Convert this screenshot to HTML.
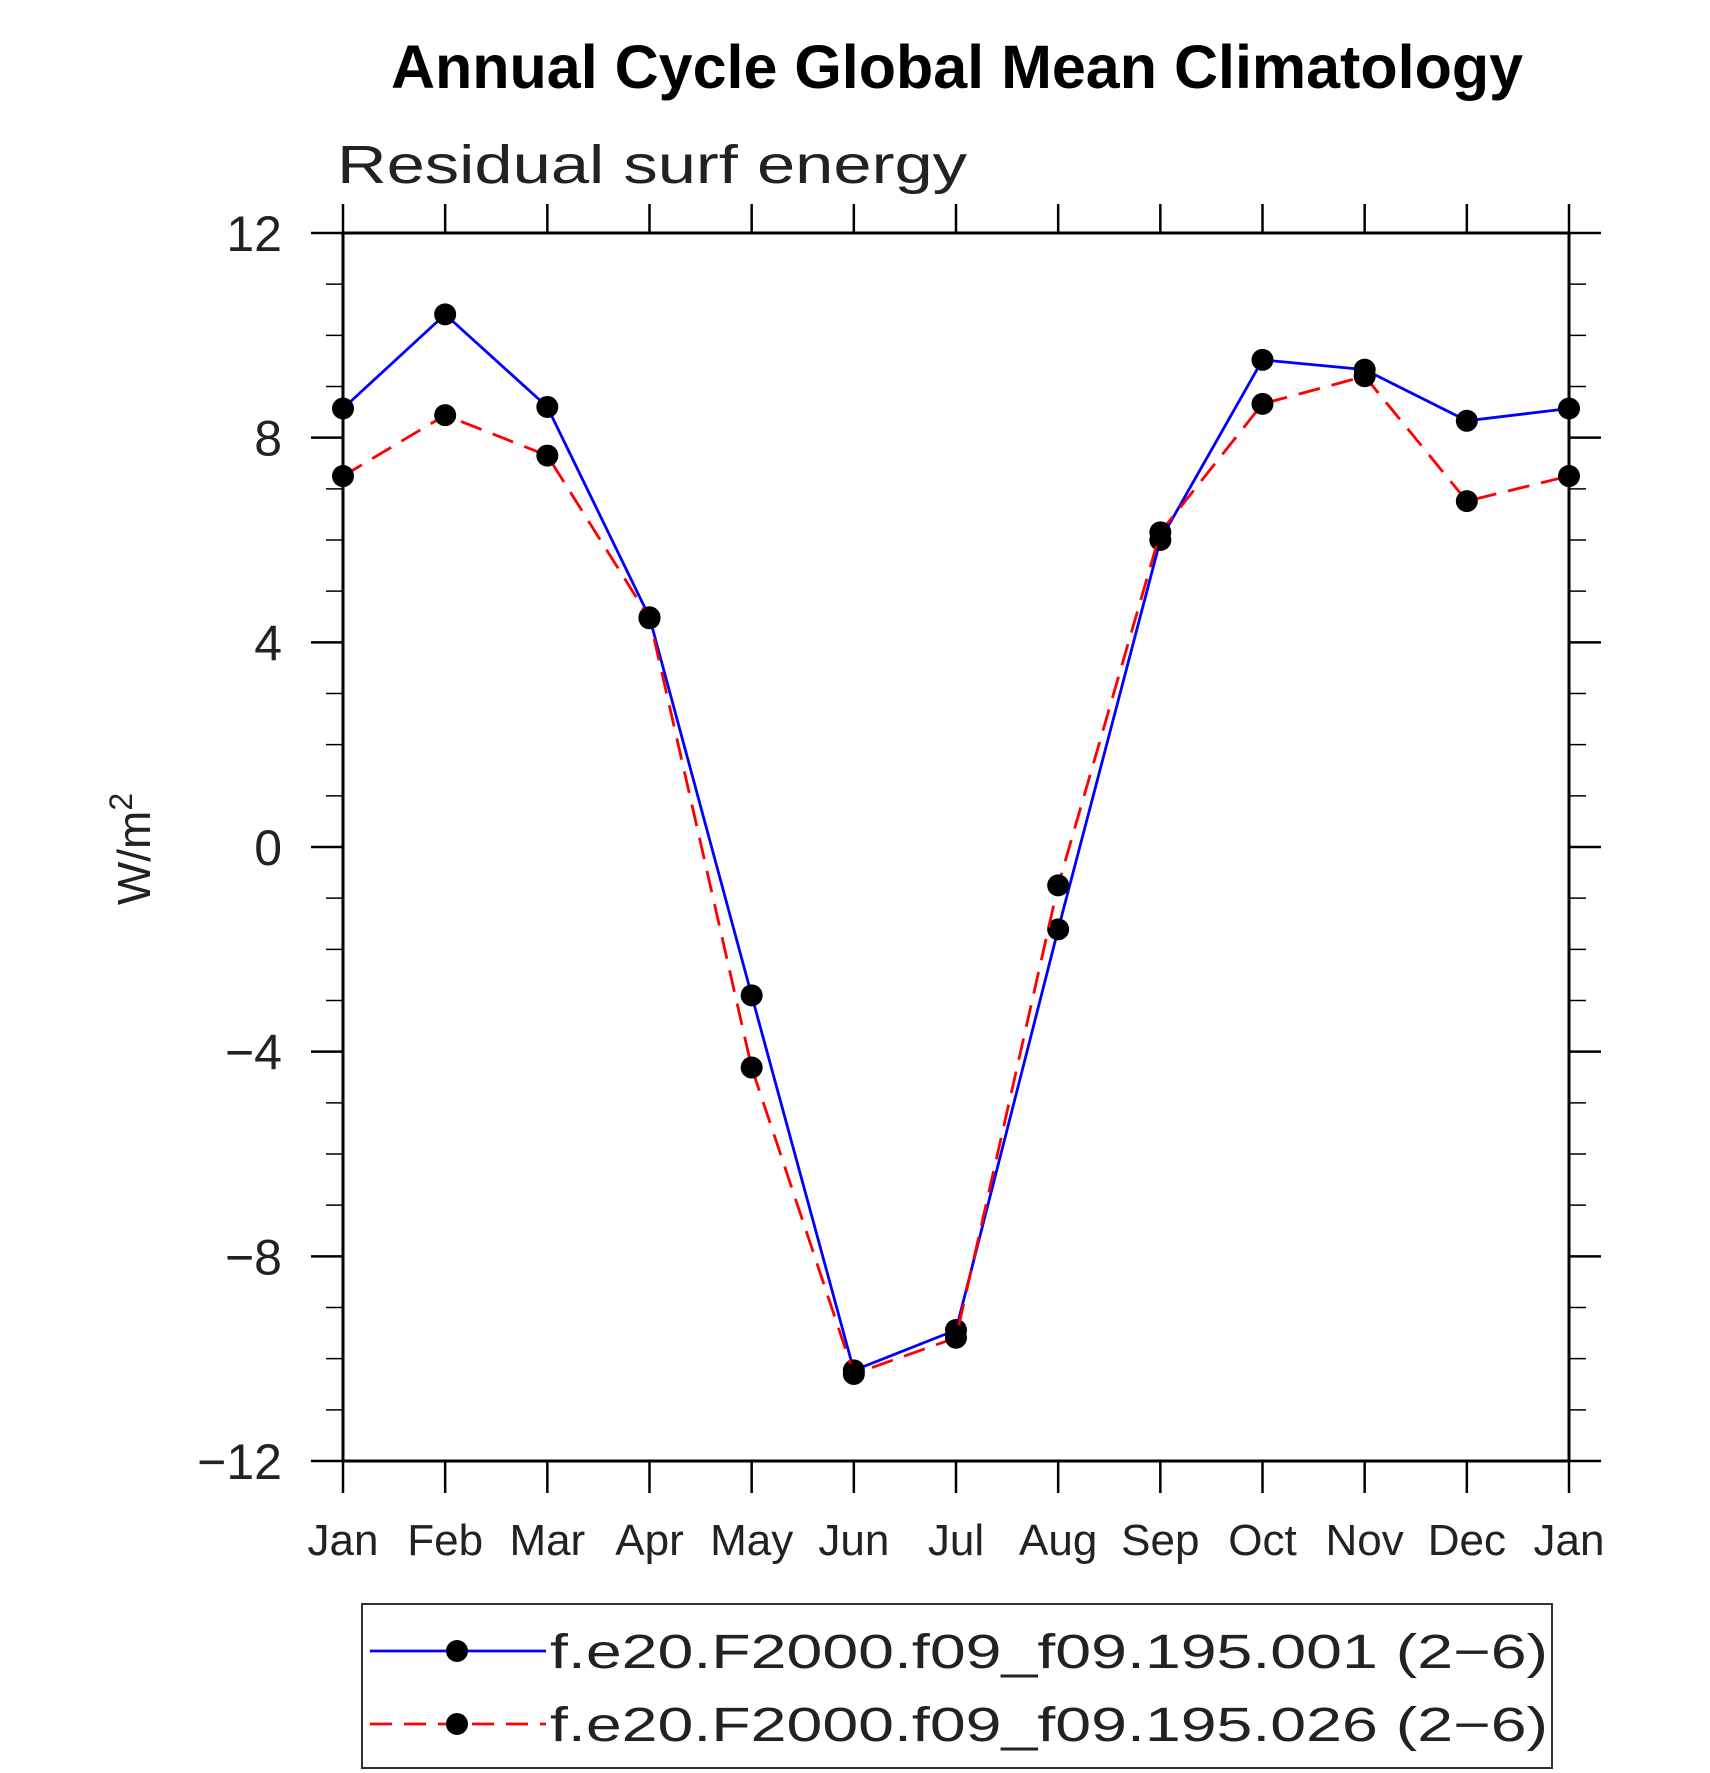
<!DOCTYPE html>
<html><head><meta charset="utf-8"><style>
html,body{margin:0;padding:0;background:#fff;}
svg{display:block;}
text{font-family:"Liberation Sans",sans-serif;}
</style></head>
<body>
<svg id="chart" width="1710" height="1773" viewBox="0 0 1710 1773">
<text x="957" y="88" text-anchor="middle" font-size="61" font-weight="bold">Annual Cycle Global Mean Climatology</text>
<text x="337" y="183" font-size="54" textLength="630" lengthAdjust="spacingAndGlyphs" fill="#222">Residual surf energy</text>
<text transform="translate(150,849) rotate(-90)" text-anchor="middle" font-size="46" fill="#222">W/m<tspan dy="-18" font-size="32">2</tspan></text>
<g id="axes"></g>
<g id="series"></g>
<g id="legend">
<rect x="362" y="1604" width="1190" height="164" fill="none" stroke="#333" stroke-width="2"/>
<g>
<line x1="370" y1="1651" x2="546" y2="1651" stroke="#0000ff" stroke-width="2.8"/>
<circle cx="457" cy="1651" r="11" fill="#000"/>
<text x="550" y="1668" font-size="48" fill="#222" textLength="998" lengthAdjust="spacingAndGlyphs">f.e20.F2000.f09_f09.195.001 (2−6)</text>
</g>
<g>
<line x1="370" y1="1724" x2="546" y2="1724" stroke="#ff0000" stroke-width="2.8" stroke-dasharray="22,12"/>
<circle cx="457" cy="1724" r="11" fill="#000"/>
<text x="550" y="1741" font-size="48" fill="#222" textLength="998" lengthAdjust="spacingAndGlyphs">f.e20.F2000.f09_f09.195.026 (2−6)</text>
</g>
</g>
</svg>
<script>
const months = ["Jan","Feb","Mar","Apr","May","Jun","Jul","Aug","Sep","Oct","Nov","Dec","Jan"];
const series001 = [8.57,10.41,8.6,4.49,-2.9,-10.23,-9.44,-1.61,6.0,9.52,9.33,8.33,8.57];
const series026 = [7.25,8.44,7.65,4.47,-4.31,-10.3,-9.59,-0.75,6.15,8.66,9.2,6.76,7.25];
const yTicks = [-12,-8,-4,0,4,8,12];
const yTickLabels = ["−12","−8","−4","0","4","8","12"];

const X0=343,X1=1569,Y0=233,Y1=1461,YMIN=-12,YMAX=12;
const xs=i=>X0+(X1-X0)*i/(months.length-1);
const ys=v=>Y1-(v-YMIN)/(YMAX-YMIN)*(Y1-Y0);
const NS="http://www.w3.org/2000/svg";
function mk(tag,attrs,parent){const e=document.createElementNS(NS,tag);for(const k in attrs)e.setAttribute(k,attrs[k]);parent.appendChild(e);return e;}
const axes=document.getElementById('axes');
const frame=mk('rect',{x:X0,y:Y0,width:X1-X0,height:Y1-Y0,fill:'none',stroke:'#000','stroke-width':3},axes);


for(let v=YMIN;v<=YMAX;v+=1){
  const y=ys(v);const major=(v%4===0);const L=major?32:17;
  mk('line',{x1:X0-L,y1:y,x2:X0,y2:y,stroke:'#000','stroke-width':major?2.5:1.5},axes);
  mk('line',{x1:X1,y1:y,x2:X1+L,y2:y,stroke:'#000','stroke-width':major?2.5:1.5},axes);
}
yTicks.forEach((v,i)=>{
  const t=mk('text',{x:282,y:ys(v)+18,'text-anchor':'end','font-size':50,fill:'#222'},axes);
  t.textContent=yTickLabels[i];
  
  
});
months.forEach((m,i)=>{
  const x=xs(i);
  mk('line',{x1:x,y1:Y1,x2:x,y2:Y1+32,stroke:'#000','stroke-width':2.5},axes);
  mk('line',{x1:x,y1:Y0-29,x2:x,y2:Y0,stroke:'#000','stroke-width':2.5},axes);
  const t=mk('text',{x:x,y:1555,'text-anchor':'middle','font-size':44,fill:'#222'},axes);
  t.textContent=m;
  
  
});
const sg=document.getElementById('series');
function draw(vals,color,dash,name){
  const g=mk('g',{},sg);
  
  
  const pts=vals.map((v,i)=>xs(i)+','+ys(v)).join(' ');
  const a={points:pts,fill:'none',stroke:color,'stroke-width':2.8};
  if(dash)a['stroke-dasharray']=dash;
  mk('polyline',a,g);
  vals.forEach((v,i)=>{
    const c=mk('circle',{cx:xs(i),cy:ys(v),r:11,fill:'#000'},g);
    
    
  });
}
draw(series001,'#0000ff',null,'series-195-001');
draw(series026,'#ff0000','22,12','series-195-026');
</script>
</body></html>
